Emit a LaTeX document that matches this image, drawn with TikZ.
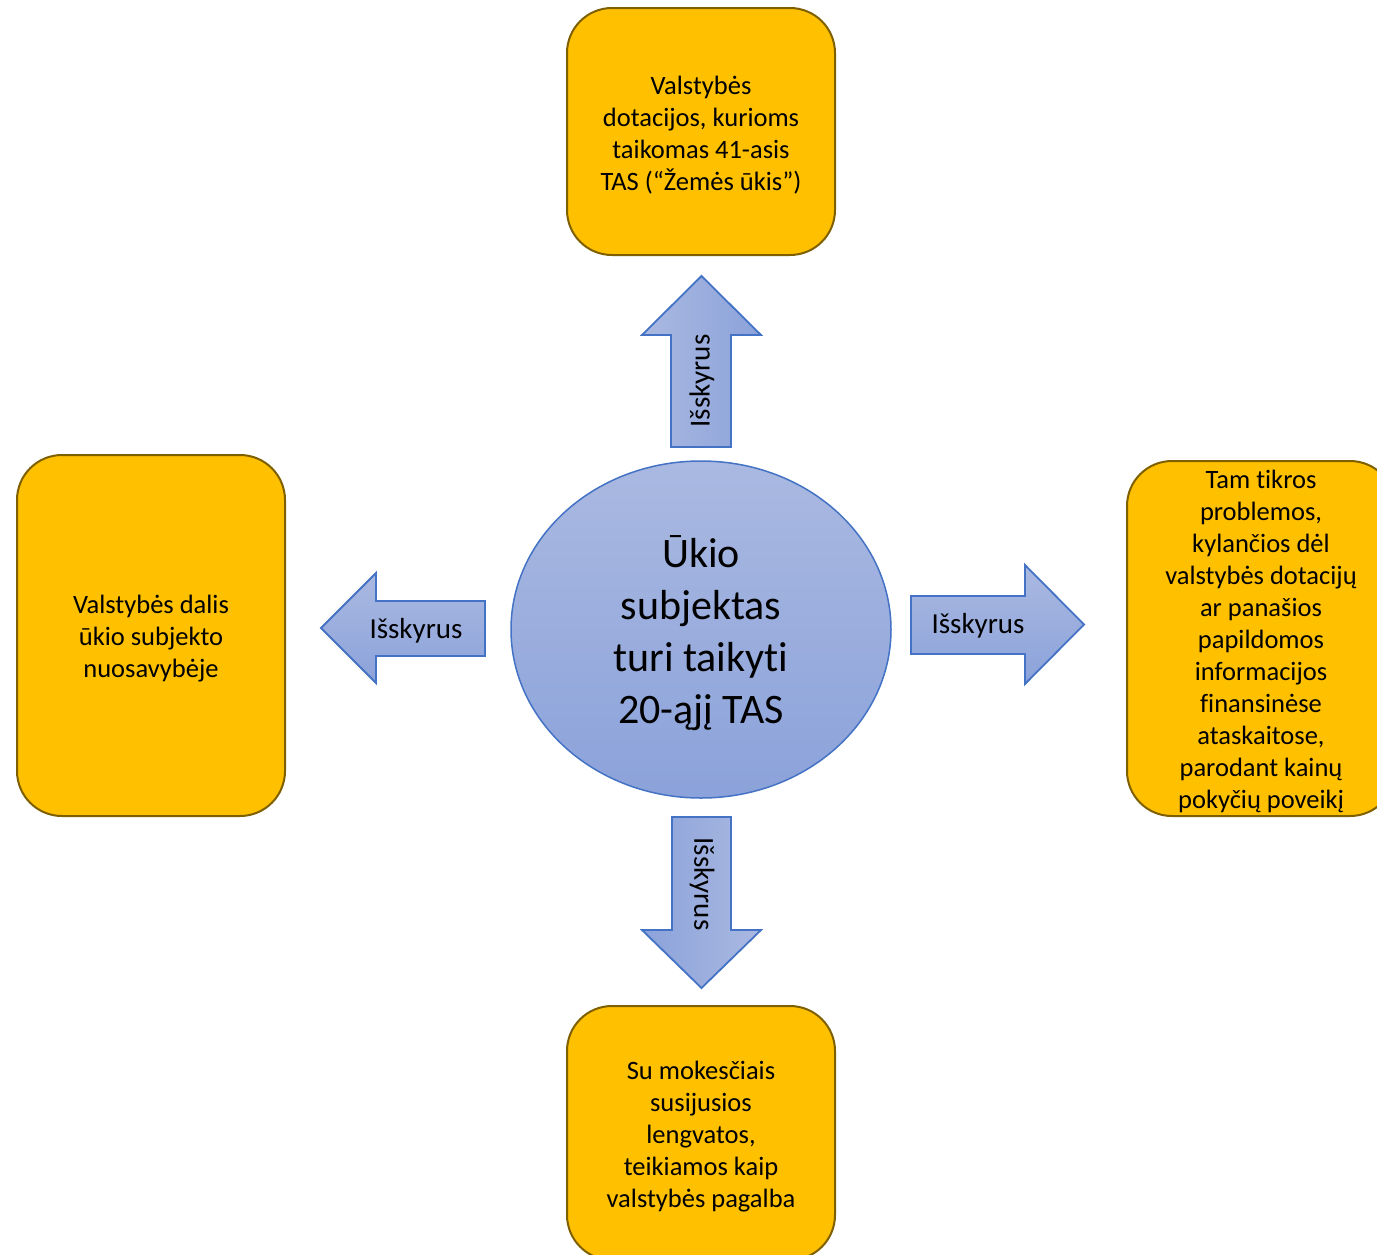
\documentclass[tikz,border=0pt]{standalone}
\usepackage{fontspec}
\setmainfont{Carlito}[Ligatures=NoCommon]
\usetikzlibrary{shapes.geometric}
\definecolor{boxfill}{HTML}{FFC000}
\definecolor{boxline}{HTML}{7F6000}
\definecolor{bluelight}{HTML}{AAB9E1}
\definecolor{bluedark}{HTML}{8BA2DA}
\definecolor{blueline}{HTML}{4472C4}
\newcommand{\boxstrut}{\rule{0pt}{25pt}}
\newcommand{\bigstrut}{\rule{0pt}{40pt}}
\begin{document}
\begin{tikzpicture}[x=1pt,y=-1pt,
  box/.style={draw=boxline, line width=2pt, fill=boxfill, rounded corners=45pt,
    minimum width=268pt, inner sep=0pt, align=center,
    font=\fontsize{26.5}{32}\selectfont},
  blockarrow/.style={draw=blueline, line width=1.8pt},
  arrowtext/.style={inner sep=0pt, font=\fontsize{29}{35}\selectfont}]
\useasboundingbox (0,0) rectangle (1377,1254);
\clip (0,0) rectangle (1377,1254);
\fill[white] (0,0) rectangle (1377,1254);

% boxes
\node[box, minimum height=247pt] (top) at (701,131.5)
  {\boxstrut Valstybės\\dotacijos, kurioms\\taikomas 41-asis\\TAS (“Žemės ūkis”)};
\node[box, minimum height=361pt] (left) at (151,635.5)
  {\boxstrut\rule{0pt}{2pt}Valstybės dalis\\ūkio subjekto\\nuosavybėje};
\node[box, minimum height=355pt] (right) at (1261,638.5)
  {\boxstrut Tam tikros\\problemos,\\kylančios dėl\\valstybės dotacijų\\ar panašios\\papildomos\\informacijos\\finansinėse\\ataskaitose,\\parodant kainų\\pokyčių poveikį};
\node[box, minimum height=254pt] (bottom) at (701,1133)
  {\boxstrut Su mokesčiais\\susijusios\\lengvatos,\\teikiamos kaip\\valstybės pagalba};

% centre ellipse
\node[ellipse, draw=blueline, line width=1.5pt, top color=bluelight, bottom color=bluedark,
  minimum width=380pt, minimum height=337pt, inner sep=0pt, align=center,
  font=\fontsize{42}{52}\selectfont] (centre) at (701,629.5)
  {\bigstrut Ūkio\\subjektas\\turi taikyti\\20-ąjį TAS};

% up arrow
\shade[blockarrow, left color=bluelight, right color=bluedark]
  (671,447) -- (671,335) -- (642,335) -- (701.5,276) -- (761,335) -- (731,335) -- (731,447) -- cycle;
\node[arrowtext, rotate=90] (lup) at (702,381) {Išskyrus};

% left arrow
\shade[blockarrow, top color=bluelight, bottom color=bluedark]
  (485,601) -- (376,601) -- (376,573) -- (321,628) -- (376,683) -- (376,656) -- (485,656) -- cycle;
\node[arrowtext] (lleft) at (416,631) {Išskyrus};

% right arrow
\shade[blockarrow, top color=bluelight, bottom color=bluedark]
  (911,596) -- (1025,596) -- (1025,565) -- (1084,624.5) -- (1025,684) -- (1025,654) -- (911,654) -- cycle;
\node[arrowtext] (lright) at (978,626) {Išskyrus};

% down arrow
\shade[blockarrow, left color=bluedark, right color=bluelight]
  (672,817) -- (731,817) -- (731,930) -- (761,930) -- (701.5,988) -- (642,930) -- (672,930) -- cycle;
\node[arrowtext, rotate=-90] (ldown) at (702,884) {Išskyrus};
\end{tikzpicture}
\end{document}
